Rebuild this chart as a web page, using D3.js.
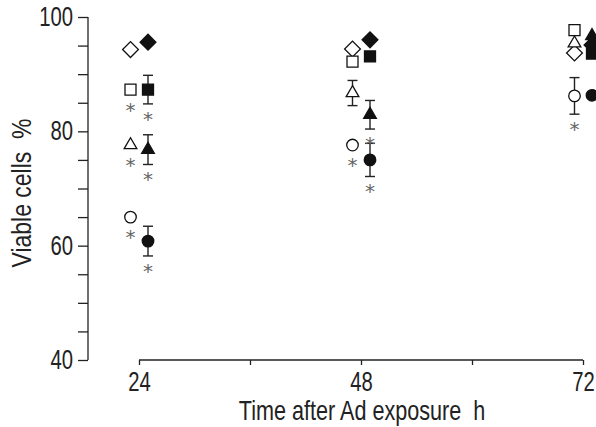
<!DOCTYPE html>
<html>
<head>
<meta charset="utf-8">
<script src="https://cdn.jsdelivr.net/npm/d3@7"></script>
<style>
  body { margin: 0; background: #fff; }
  text { font-family: "Liberation Sans Narrow", "Liberation Sans", Arial, sans-serif; }
</style>
</head>
<body>
<div id="chart"></div>
<script>
// time points (h) and axis ticks
var times = [24, 48, 72];
var xTicks = [24, 36, 48, 60, 72];
var xTickLabels = ["24", "", "48", "", "72"];
var yTicks = [40, 45, 50, 55, 60, 65, 70, 75, 80, 85, 90, 95, 100];
var yTickLabels = ["40", "", "", "", "60", "", "", "", "80", "", "", "", "100"];

// viable cells % per series (open = left of tick, filled = right of tick)
var diamondOpen    = [94.3, 94.4, 93.7];
var diamondFilled  = [95.6, 96.0, 95.1];
var squareOpen     = [87.3, 92.2, 97.7];
var squareFilled   = [87.3, 93.1, 93.6];
var triangleOpen   = [77.6, 86.7, 95.4];
var triangleFilled = [76.8, 82.9, 96.7];
var circleOpen     = [65.0, 77.6, 86.2];
var circleFilled   = [60.8, 75.0, 86.3];

// error bars (0 = none drawn)
var squareFilledErr   = [2.5, 0, 0];
var triangleOpenErr   = [0, 2.2, 0];
var triangleFilledErr = [2.6, 2.5, 0];
var circleOpenErr     = [0, 0, 3.2];
var circleFilledErr   = [2.6, 2.9, 0];
var noErr = [0, 0, 0];

// asterisks (1 = significant)
var squareOpenSig     = [1, 0, 0];
var squareFilledSig   = [1, 0, 0];
var triangleOpenSig   = [1, 0, 0];
var triangleFilledSig = [1, 1, 0];
var circleOpenSig     = [1, 1, 1];
var circleFilledSig   = [1, 1, 0];
var noSig = [0, 0, 0];

var width = 596, height = 427;
var narrow = 0.75; // condensed look for the tick labels

var svg = d3.select("#chart")
  .append("svg")
    .attr("width", width)
    .attr("height", height);

var x = d3.scaleLinear().domain([24, 72]).range([139, 583]);
var y = d3.scaleLinear().domain([40, 100]).range([360, 17]);

// y axis
var yAxis = svg.append("g")
  .attr("transform", "translate(88,0)")
  .call(d3.axisLeft(y)
    .tickValues(yTicks)
    .tickSize(10)
    .tickPadding(5)
    .tickFormat(function(d, i) { return yTickLabels[i]; }));
yAxis.select(".domain").attr("d", "M0," + y(40) + "V" + y(100));

// x axis
var xAxis = svg.append("g")
  .attr("transform", "translate(0,360)")
  .call(d3.axisBottom(x)
    .tickValues(xTicks)
    .tickSize(5)
    .tickPadding(7)
    .tickFormat(function(d, i) { return xTickLabels[i]; }));
xAxis.select(".domain").attr("d", "M" + x(24) + ",0H" + x(72));

svg.selectAll(".tick text")
  .attr("fill", "#222")
  .style("font-size", "27px")
  .attr("transform", function() {
    var tx = +d3.select(this).attr("x") || 0;
    d3.select(this).attr("x", 0);
    return "translate(" + tx + ",0) scale(" + narrow + ",1)";
  });
svg.selectAll(".domain, .tick line")
  .attr("stroke", "#222")
  .attr("stroke-width", 1.3);

// axis titles
svg.append("text")
  .attr("transform", "translate(31,193) rotate(-90) scale(0.85,1)")
  .attr("text-anchor", "middle")
  .attr("fill", "#222")
  .style("font-size", "27px")
  .style("white-space", "pre")
  .text("Viable cells  %");

svg.append("text")
  .attr("transform", "translate(362,420) scale(0.8,1)")
  .attr("text-anchor", "middle")
  .attr("fill", "#222")
  .style("font-size", "27px")
  .style("white-space", "pre")
  .text("Time after Ad exposure  h");

// series definitions built from the arrays above
var series = [
  {vals: diamondOpen,    err: noErr,             sig: noSig,             shape: "diamond",  filled: false},
  {vals: diamondFilled,  err: noErr,             sig: noSig,             shape: "diamond",  filled: true},
  {vals: squareOpen,     err: noErr,             sig: squareOpenSig,     shape: "square",   filled: false},
  {vals: squareFilled,   err: squareFilledErr,   sig: squareFilledSig,   shape: "square",   filled: true},
  {vals: triangleOpen,   err: triangleOpenErr,   sig: triangleOpenSig,   shape: "triangle", filled: false},
  {vals: triangleFilled, err: triangleFilledErr, sig: triangleFilledSig, shape: "triangle", filled: true},
  {vals: circleOpen,     err: circleOpenErr,     sig: circleOpenSig,     shape: "circle",   filled: false},
  {vals: circleFilled,   err: circleFilledErr,   sig: circleFilledSig,   shape: "circle",   filled: true}
];

var symbolFor = {
  diamond:  d3.symbol().type(d3.symbolSquare).size(125),
  square:   d3.symbol().type(d3.symbolSquare).size(121),
  triangle: d3.symbol().type(d3.symbolTriangle).size(70),
  circle:   d3.symbol().type(d3.symbolCircle).size(105)
};

var points = [];
series.forEach(function(s) {
  times.forEach(function(t, i) {
    points.push({t: t, v: s.vals[i], e: s.err[i], sig: s.sig[i], shape: s.shape, filled: s.filled});
  });
});

function px(d) { return x(d.t) + (d.filled ? 9 : -8.5); }

// error bars
var eb = svg.append("g").selectAll("g")
  .data(points.filter(function(d) { return d.e > 0; }))
  .enter().append("g")
    .attr("stroke", "#222")
    .attr("stroke-width", 1.4);
eb.append("line")
  .attr("x1", px).attr("x2", px)
  .attr("y1", function(d) { return y(d.v + d.e); })
  .attr("y2", function(d) { return y(d.v - d.e); });
eb.append("line")
  .attr("x1", function(d) { return px(d) - 5; }).attr("x2", function(d) { return px(d) + 5; })
  .attr("y1", function(d) { return y(d.v + d.e); })
  .attr("y2", function(d) { return y(d.v + d.e); });
eb.append("line")
  .attr("x1", function(d) { return px(d) - 5; }).attr("x2", function(d) { return px(d) + 5; })
  .attr("y1", function(d) { return y(d.v - d.e); })
  .attr("y2", function(d) { return y(d.v - d.e); });

// markers
svg.append("g").selectAll("path")
  .data(points)
  .enter().append("path")
    .attr("d", function(d) { return symbolFor[d.shape](); })
    .attr("transform", function(d) {
      var r = d.shape === "diamond" ? " rotate(45)" : "";
      return "translate(" + px(d) + "," + y(d.v) + ")" + r;
    })
    .attr("fill", function(d) { return d.filled ? "#111" : "#fff"; })
    .attr("stroke", "#111")
    .attr("stroke-width", 1.3);

// asterisks under the lower end of each significant point
svg.append("g").selectAll("text")
  .data(points.filter(function(d) { return d.sig; }))
  .enter().append("text")
    .attr("x", px)
    .attr("y", function(d) { return y(d.v - d.e) + (d.e > 0 ? 10 : 15) + 12; })
    .attr("text-anchor", "middle")
    .attr("fill", "#666")
    .style("font-family", "DejaVu Sans, sans-serif")
    .style("font-size", "20px")
    .text("*");
</script>
</body>
</html>
